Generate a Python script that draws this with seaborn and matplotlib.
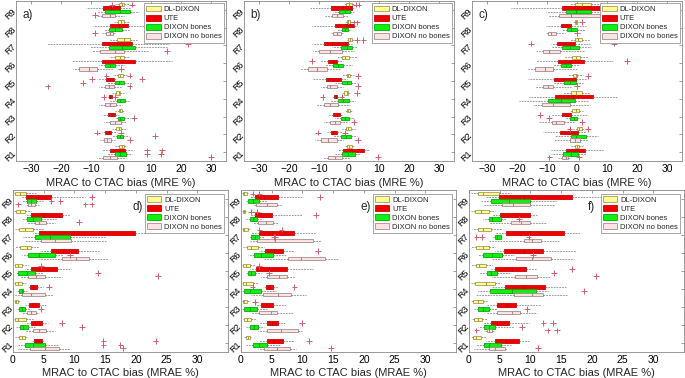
import numpy as np
import pandas as pd
import matplotlib
matplotlib.use("Agg")
import matplotlib.pyplot as plt
from matplotlib.patches import Patch
import seaborn as sns

sns.set_style("white")
plt.rcParams["font.family"] = ["Liberation Sans", "DejaVu Sans"]

REGIONS = ["R1", "R2", "R3", "R4", "R5", "R6", "R7", "R8", "R9"]
ORDER = REGIONS[::-1]
METHODS = ["DL-DIXON", "UTE", "DIXON bones", "DIXON no bones"]
FACE = {"DL-DIXON": "#FFFF99", "UTE": "#EE0000", "DIXON bones": "#11EE11", "DIXON no bones": "#FCE3E3"}
EDGE = {"DL-DIXON": "#A89A50", "UTE": "#CC0000", "DIXON bones": "#00B000", "DIXON no bones": "#A58C8C"}
OUT_COLOR = "#D06070"

# each entry: (lower whisker, Q1, median, Q3, upper whisker) for R1..R9
a_dl = [(-1.9,-0.6,0.3,0.9,2.0),(-3,-1.7,-0.8,0,2.0),(-1.9,-0.8,-0.2,0.3,1.1),(-3,-1.6,-0.8,-0.2,0.9),
        (-2.5,-1.1,-0.2,0.6,2.0),(-4.1,-1.9,-0.2,1.1,2.6),(-3.6,-1.3,0.9,3.1,5.4),(-2.5,-1.1,0,1.1,2.6),(-2,-0.6,0.3,1.1,2.5)]
a_ute = [(-6.4,-3.6,-0.8,1.2,4.2),(-6.4,-5.3,-4.1,-3.2,-1.3),(-6.4,-4.5,-3.0,-1.9,-0.8),(-4.9,-4.1,-3.6,-3.0,-2.5),
         (-8,-5,-3.6,-2.2,-1.3),(-16.4,-6.4,-1,4.8,17.1),(-24.8,-6.4,-1.5,3.7,16),(-9.2,-3.6,-0.8,2.2,7.6),(-11.6,-6,-3.5,-0.4,3.1)]
a_bones = [(-4.7,-1.9,-0.2,1.8,3.7),(-3,-1.3,-0.2,0.7,2.6),(-1.9,-1.0,-0.2,1.1,3.1),(-3.6,-1.3,-0.2,1.2,2.6),
           (-4.7,-1.9,-0.8,1.1,3.7),(-7.5,-5.3,-3.6,-1.9,0.9),(-10.3,-4.1,0.3,4.8,15.4),(-5.8,-4.1,-1.9,0.3,2.6),(-8,-5.3,-0.2,3.1,5.9)]
a_nobones = [(-8,-6,-3.6,-1.3,1.5),(-6.9,-5.8,-4.7,-3.4,-1.9),(-5.8,-3.8,-1.9,0,1.5),(-7.5,-5.5,-3.6,-1.6,0.3),
             (-7.5,-5.3,-4.1,-2.5,0),(-15.9,-13.9,-10.8,-8.0,-2.5),(-9.7,-6.9,-1.9,0.9,9.3),(-6.4,-4.9,-3.8,-2.7,-1.9),(-8,-6.4,-3.6,-1.9,0.9)]
a_out = [("R9","DL-DIXON",-3),("R9","DL-DIXON",3.7),("R9","DIXON no bones",-8.6),("R8","DIXON no bones",-8.6),
         ("R7","UTE",22.3),("R7","DIXON no bones",15.4),("R6","DIXON no bones",0),("R5","DL-DIXON",-4.9),("R5","DL-DIXON",2.9),
         ("R5","UTE",-9.7),("R5","UTE",7.0),("R5","DIXON bones",-12.7),("R5","DIXON no bones",-24.5),("R5","DIXON no bones",2.9),
         ("R4","UTE",-5.8),("R4","UTE",-1.9),("R3","DIXON bones",4.2),("R2","UTE",-8.0),("R2","UTE",0),("R2","DIXON bones",11.3),
         ("R2","DIXON no bones",2.9),("R1","UTE",8.7),("R1","UTE",13.7),("R1","DIXON bones",8.7),("R1","DIXON bones",13.4),
         ("R1","DIXON no bones",30)]

b_dl = [(-1.5,-0.8,0.1,0.9,1.8),(-2.5,-1.1,-0.2,0.6,2.0),(-1.5,-0.8,-0.2,0.3,1.1),(-2.5,-1.6,-0.8,-0.2,0.7),
        (-2.5,-0.8,-0.2,0.3,1.5),(-4.1,-2.5,-1.3,0,2.6),(-0.8,-0.2,0.3,0.9,1.5),(-1.3,-0.8,-0.2,0.3,1.1),(-1.9,-1,0,0.9,2.0)]
b_ute = [(-3.6,-1.9,0.9,5.1,6.5),(-7.5,-6,-5.3,-4.1,-2.5),(-6.9,-5.3,-4.1,-3.0,-1.9),(-5.8,-5,-4.5,-3.9,-3.2),
         (-12.5,-7.7,-5.3,-2.7,-0.8),(-9.2,-6.9,-5.5,-3.9,-1.9),(-12.5,-8.3,-5.8,-0.4,0.9),(-12.5,-4.7,-1,1.8,2.6),(-13,-6,-2,0.9,2.0)]
b_bones = [(-4.7,-2.2,-0.4,2.0,3.7),(-5.3,-2.7,-1.1,0.7,2.6),(-4.7,-2.7,-1.3,0,1.5),(-6.4,-3.6,-1.9,0,2.0),
           (-4.7,-2.5,-0.8,0.7,2.6),(-8,-5.3,-3.6,-1.9,1.1),(-5.8,-2.7,-0.8,0.9,2.6),(-4.1,-2.5,-1.3,-0.4,0.7),(-5.3,-3.2,-1.3,0.3,1.5)]
b_nobones = [(-8.6,-6.9,-4.7,-2.5,0.3),(-11.2,-9.4,-6.9,-4.1,-1.9),(-8.3,-6.4,-4.7,-3.0,-0.8),(-10.8,-8.3,-6.4,-3.6,0.3),
             (-9.2,-7.5,-6.4,-4.1,-1.9),(-16.4,-13.6,-10.8,-7.5,-3.0),(-12,-9.9,-6.4,-2.5,1.5),(-6.4,-5.3,-4.1,-2.7,-1.9),(-8,-5.8,-4.1,-2.1,-0.2)]
b_out = [("R9","DL-DIXON",2.2),("R9","DL-DIXON",3.2),("R8","DL-DIXON",1.5),("R8","DL-DIXON",2.6),("R7","DL-DIXON",2.6),
         ("R7","DL-DIXON",4.8),("R6","UTE",-12.5),("R5","DL-DIXON",2.9),("R5","DIXON no bones",2.9),("R4","DL-DIXON",2.6),
         ("R4","UTE",-8.8),("R4","UTE",-2.5),("R3","DIXON no bones",1.5),("R2","UTE",-10.3),("R2","UTE",-1.3),
         ("R2","DIXON no bones",3.1),("R1","DIXON no bones",9.8)]

c_dl = [(-1.9,-0.8,0,0.7,2.0),(-1.3,0,0.7,1.5,2.6),(-2.5,-1.6,-0.4,0.7,2.0),(-4.7,-2.1,-0.4,1.5,4.2),
        (-3,-1.3,-0.4,0,2.0),(-4.1,-1.6,-0.2,0.9,3.7),(-2.5,-0.8,0.3,1.5,4.2),(-1.3,-0.8,-0.4,0,0.3),(-2.5,-0.8,1.5,4.8,8.7)]
c_ute = [(-8.6,-3.8,-0.8,2.6,8.7),(-11.2,-5.8,-2.5,0.3,3.1),(-8.6,-5,-3.6,-1.9,3.7),(-15.9,-7.5,-1.3,5.4,13.2),
         (-16.4,-7.8,-4.7,-0.4,3.1),(-13.6,-6.4,-2.5,2.2,12),(-8.6,-6.6,-3.6,-0.8,4.2),(-10.3,-5.5,-3.6,-1.9,3.1),(-22,-4.9,0,11,20)]
c_bones = [(-8.6,-4.7,-1.9,0.3,3.1),(-7.5,-1.9,-0.2,3.1,7.0),(-3.6,-2.2,-1.1,0,0.9),(-19.2,-9.7,-5.3,-0.8,3.7),
           (-8,-4.5,-2.5,-0.2,2.0),(-8,-5.3,-3.6,-1.9,0.9),(-8.6,-4.9,-2.5,0.7,4.8),(-4.9,-3.2,-1.9,0,2.6),(-10.3,-3.8,-0.2,4.8,8.7)]
c_nobones = [(-6.4,-4.9,-3.8,-3.0,-1.9),(-8,-2.5,-0.8,0.9,3.7),(-13,-8.3,-6.9,-4.5,-0.8),(-14.7,-11.6,-8,-2.5,4.2),
             (-13.9,-11.4,-9.7,-8,-1.9),(-16.4,-13.9,-10.8,-8,0.3),(-13.6,-11.4,-9.2,-5.8,2.6),(-10.3,-9.7,-8.6,-6.9,-4.1),(-9.7,-6,-1.9,7.6,11)]
c_out = [("R8","DL-DIXON",1.8),("R8","DIXON no bones",0),("R7","UTE",-15.3),("R7","UTE",12.3),("R6","UTE",16.8),
         ("R5","DL-DIXON",3.7),("R5","DIXON no bones",0),("R3","UTE",-12.5),("R3","DIXON bones",-9.5),("R3","DIXON no bones",1.5),
         ("R2","DL-DIXON",-2.5),("R2","DL-DIXON",3.7),("R1","DIXON no bones",-9.2),("R1","DIXON no bones",0.7)]

d_dl = [(0.4,1,1.4,1.9,2.4),(0.1,0.3,0.8,2.1,3.2),(0.1,0.3,0.5,0.8,1.2),(0.1,0.3,0.8,1.5,2.1),(0.1,0.3,0.8,1.5,2.4),
        (0.4,1.2,2.2,3,4.3),(0.3,1,1.9,3.3,4.9),(0.1,0.5,1.1,1.9,3),(0.1,0.4,1.1,2.1,3.7)]
d_ute = [(3,3.4,4.1,4.8,5.2),(1.9,3,3.5,4.8,5.7),(1.9,2.6,3.3,4.2,5.4),(2.4,2.8,3.3,3.9,4.9),(1.9,3,4.5,7.1,9.5),
         (4.6,6.25,8.2,10.6,14.1),(3.3,4.3,10,19.8,21.7),(1.9,3,5,8,9.2),(1.4,2.1,4,6.25,11.8)]
d_bones = [(0.8,1.9,3.3,5.2,7.3),(0.5,1.1,1.6,2.4,3.5),(0.5,1,1.4,1.9,2.7),(0.5,1,1.4,1.7,2.3),(0.3,0.8,2.2,3.5,4.9),
           (1.4,2.4,4.3,6.8,8.2),(1.6,3.5,6,9.2,15.2),(1.4,2.2,3.3,4.5,7),(1.5,2.3,3,3.7,4.9)]
d_nobones = [(0.8,2.7,5.2,7.5,9.2),(1.9,3.3,4.3,5.4,6.8),(1.4,2.2,2.9,3.7,4.2),(0.3,1.4,3.0,5.2,6.5),(1.1,2.4,3.8,5.2,7.9),
             (4.3,8,10.2,12.4,15.5),(1.9,4.5,6.8,9.5,15.2),(2.2,3.5,4.3,5.4,6.8),(2.1,2.4,3,3.5,4.3)]
d_out = [("R9","UTE",12.8),("R9","DIXON bones",6.25),("R9","DIXON bones",7.7),("R9","DIXON no bones",0.8),
         ("R9","DIXON no bones",11.8),("R9","DIXON no bones",12.8),("R8","DIXON no bones",10.8),("R6","DIXON bones",9.3),
         ("R5","DL-DIXON",4.6),("R5","DIXON bones",13.9),("R5","DIXON no bones",23.6),("R4","UTE",5.8),("R3","DIXON bones",4.6),
         ("R2","UTE",7.9),("R2","DIXON bones",11.3),("R1","UTE",14.7),("R1","UTE",23.2),("R1","DIXON bones",14.7),
         ("R1","DIXON bones",17.5),("R1","DIXON no bones",17.9)]

e_dl = [(0.5,0.8,1.1,1.4,1.6),(0.3,0.5,0.9,1.6,2.4),(0.1,0.3,0.5,1,1.5),(0.1,0.3,0.8,1.9,2.7),(0.1,0.3,0.8,1.5,2.3),
        (0.3,1,1.6,2.7,3.8),(0.1,0.3,0.5,1.1,1.5),(0.1,0.3,0.45,0.65,0.8),(0.1,0.3,0.5,1,1.2)]
e_ute = [(3,4.3,5.4,6.8,8.7),(3,4.2,5,6,7.1),(2.4,3.3,4.1,5.2,7.3),(3.5,4.1,4.6,5.2,6),(1.4,2.4,4.5,7.5,11.7),
         (3,3.9,5.4,6.8,8.7),(1.6,3,5,8.7,12.2),(1.4,2.2,3.3,5,10),(1.4,2.3,3.8,6,10)]
e_bones = [(0.8,1.9,3,4.2,6.5),(0.8,1.4,2.1,2.8,3.8),(0.1,0.5,1.4,2.6,4.3),(0.1,0.5,1.4,3.2,5.7),(0.8,1.2,1.7,2.3,3.3),
           (1.1,2.1,3.3,5.2,7.3),(1.4,1.7,2.3,3,3.8),(0.8,1.4,1.9,2.6,3.3),(0.8,1.2,1.9,3,4.2)]
e_nobones = [(2.7,3.8,5.9,7.9,9),(2.7,4.3,6.5,9.2,10),(1.6,3,4.9,5.9,8.4),(1.6,3.6,6,8.2,10.6),(3.3,4.3,6.2,7.5,8.7),
             (3.8,7.6,9.8,13.6,15.8),(1.4,2.6,5.5,11.7,13),(1.9,2.7,4.1,5.2,6),(1.9,2.4,4.3,5.9,6.5)]
e_out = [("R9","DL-DIXON",1.9),("R9","DL-DIXON",3.0),("R9","UTE",12.8),("R8","DL-DIXON",1.6),("R8","DL-DIXON",2.6),
         ("R8","UTE",12.2),("R7","DL-DIXON",3.0),("R7","DL-DIXON",6.6),("R7","DIXON bones",5.4),("R7","DIXON bones",5.6),
         ("R6","UTE",12.5),("R5","DL-DIXON",3.0),("R5","DIXON bones",4.6),("R4","UTE",1.9),("R4","UTE",8.7),
         ("R3","DL-DIXON",2.2),("R2","UTE",9.9),("R1","UTE",11.1),("R1","DIXON no bones",14.6)]

f_dl = [(0.3,0.65,1.2,1.9,2.7),(0.3,0.8,1.4,2.1,3),(0.3,0.65,1.4,2.2,3),(0.3,1,2.7,4.2,5.2),(0.4,1.1,1.7,2.7,3.8),
        (0.4,1.2,2.2,3.3,4.3),(0.5,1.4,2.2,3.5,5.2),(0.4,1,1.9,3.2,4.3),(0.4,1.4,2.2,4.9,6.8)]
f_ute = [(2.7,4.2,6,8.2,9.8),(2.4,3.5,4.6,6.5,9.8),(2.7,4.6,6.2,7.6,11.7),(3.5,5.9,9,12.4,15.8),(3.5,4.3,7,9.2,10.9),
         (4.3,5.7,9,12.1,17.4),(4.3,6,10,15.5,18.2),(3.8,5,7.5,9.9,11.1),(2.7,4.9,9,16.7,25)]
f_bones = [(1.2,2.4,3.3,5.2,6.8),(1.4,2.4,3.3,4.2,7.3),(0.8,1.5,2.2,3.2,4.6),(1.4,3.4,7,10.9,12.8),(1.6,2.9,3.5,4.6,6.8),
           (1.4,2.3,3.8,5.3,7.3),(3.8,4.2,4.6,5.2,5.4),(2.2,3.2,3.8,5.2,6),(1.9,3.5,6.5,10,14.1)]
f_nobones = [(0.8,3.3,4.3,5.9,6.25),(2.4,3,3.3,3.7,4.2),(2.7,4.6,7,8.3,11.1),(1.1,7.3,10.3,12.1,16),(3.8,7.5,9.2,11.1,13.3),
             (3.8,7.6,10.3,13.3,17.1),(3.3,9,10.3,11.7,14.7),(3.3,6.8,8.4,10,12.5),(2.4,5.4,7.1,10,13.9)]
f_out = [("R8","DIXON bones",8.2),("R7","DIXON bones",1.2),("R7","DIXON bones",2.1),("R7","DIXON bones",9.7),
         ("R6","DIXON bones",10.4),("R5","UTE",16.8),("R5","DIXON bones",13.9),("R5","DIXON no bones",20.7),
         ("R4","DIXON bones",18.75),("R3","DIXON bones",9.5),("R2","UTE",12.1),("R2","UTE",13.7),("R2","DIXON bones",8.7),
         ("R2","DIXON no bones",1.2),("R2","DIXON no bones",12.8),("R2","DIXON no bones",14.3),("R1","DIXON no bones",11.3)]

PANELS = [
    ("a)", [a_dl, a_ute, a_bones, a_nobones], a_out, "top"),
    ("b)", [b_dl, b_ute, b_bones, b_nobones], b_out, "top"),
    ("c)", [c_dl, c_ute, c_bones, c_nobones], c_out, "top"),
    ("d)", [d_dl, d_ute, d_bones, d_nobones], d_out, "bottom"),
    ("e)", [e_dl, e_ute, e_bones, e_nobones], e_out, "bottom"),
    ("f)", [f_dl, f_ute, f_bones, f_nobones], f_out, "bottom"),
]


def long_frame(stats_lists):
    rows = []
    for m, stats in zip(METHODS, stats_lists):
        for r, five in zip(REGIONS, stats):
            for v in five:
                rows.append((r, m, v))
    return pd.DataFrame(rows, columns=["region", "method", "value"])


W, H = 685, 378
fig = plt.figure(figsize=(W / 100, H / 100), dpi=100)

for i, (label, stats_lists, outs, row) in enumerate(PANELS):
    col = i % 3
    if row == "top":
        rect = [(16 + 228 * col) / W, (H - 161) / H, 210 / W, 160 / H]
    else:
        rect = [(13 + 228 * col) / W, (H - 352) / H, 215 / W, 162 / H]
    ax = fig.add_axes(rect)
    df = long_frame(stats_lists)
    for m in METHODS:
        sub = df[df["method"] == m]
        sns.boxplot(data=sub, x="value", y="region", hue="method", order=ORDER, hue_order=METHODS,
                    orient="h", dodge=True, palette=FACE, saturation=1, linecolor=EDGE[m], linewidth=0.6,
                    width=0.86, gap=0.18, whis=(0, 100), showfliers=False, showcaps=False,
                    whiskerprops=dict(linestyle=(0, (2.5, 1.5)), color="#707070", linewidth=0.5),
                    medianprops=dict(color=EDGE[m], linewidth=0.8),
                    legend=False, ax=ax)
    odf = pd.DataFrame(outs, columns=["region", "method", "value"])
    sns.stripplot(data=odf, x="value", y="region", hue="method", order=ORDER, hue_order=METHODS,
                  orient="h", dodge=True, jitter=False, palette={m: OUT_COLOR for m in METHODS},
                  marker="+", size=4, linewidth=0.7, edgecolor=OUT_COLOR, legend=False, ax=ax)

    ax.set_ylim(8.5, -0.5)
    if row == "top":
        ax.set_xlim(-35, 35)
        ax.set_xticks([-30, -20, -10, 0, 10, 20, 30])
        ax.set_xlabel("MRAC to CTAC bias (MRE %)", fontsize=8, labelpad=3)
        ax.text(0.03, 0.91, label, transform=ax.transAxes, fontsize=8.5, va="center", ha="left")
    else:
        ax.set_xlim(0, 35)
        ax.set_xticks([0, 5, 10, 15, 20, 25, 30])
        ax.set_xlabel("MRAC to CTAC bias (MRAE %)", fontsize=8, labelpad=2)
        ax.text(0.555, 0.895, label, transform=ax.transAxes, fontsize=8.5, va="center", ha="left")
    ax.set_ylabel("")
    ax.tick_params(axis="both", direction="in", length=2, width=0.5, top=True, right=True,
                   colors="#777777", labelcolor="black")
    ax.tick_params(axis="x", labelsize=7.5, pad=2)
    ax.tick_params(axis="y", labelsize=6.5, pad=1)
    for t in ax.get_yticklabels():
        t.set_rotation(45)
        t.set_rotation_mode("anchor")
        t.set_ha("right")
        t.set_va("center")
    for s in ax.spines.values():
        s.set_color("#888888")
        s.set_linewidth(0.6)

    handles = [Patch(facecolor=FACE[m], edgecolor=EDGE[m], linewidth=0.6) for m in METHODS]
    leg = ax.legend(handles, METHODS, loc="upper right", prop={"family": ["Liberation Sans"], "size": 5.5},
                    frameon=True, fancybox=False, edgecolor="#999999", framealpha=1, borderpad=0.3,
                    labelspacing=0.2, handlelength=1.9, handleheight=0.8, handletextpad=0.35,
                    borderaxespad=0.3 if row == "top" else 0.5)
    leg.get_frame().set_linewidth(0.6)

fig.savefig("out.png", dpi=100)
